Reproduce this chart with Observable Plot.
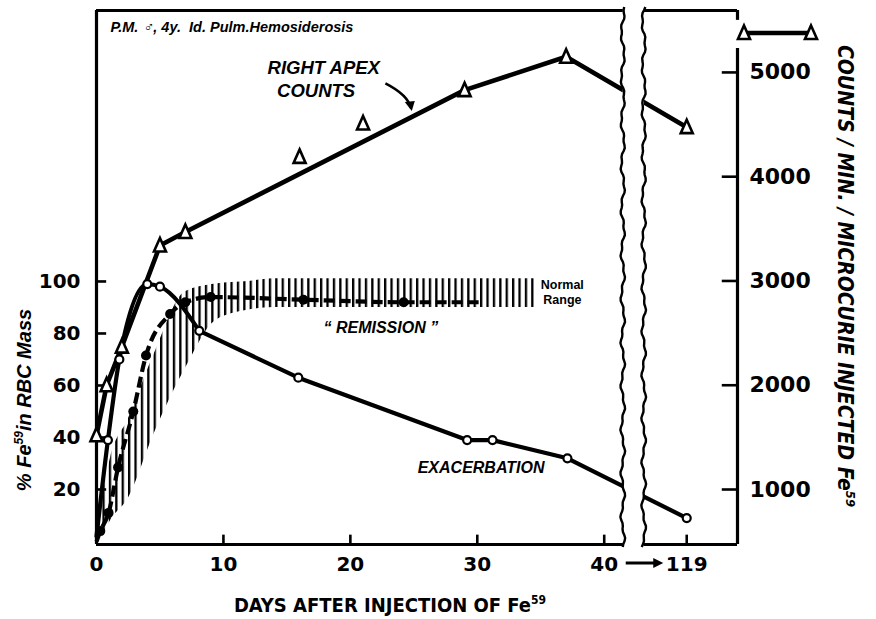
<!DOCTYPE html>
<html>
<head>
<meta charset="utf-8">
<script src="https://cdn.jsdelivr.net/npm/d3@7"></script>
<script src="https://cdn.jsdelivr.net/npm/@observablehq/plot@0.6"></script>
<style>
  html, body { margin: 0; padding: 0; background: #fff; }
  svg { display: block; }
</style>
</head>
<body>
<div id="chart"></div>
<script>
// ---------------- DATA ----------------
// Right apex counts (counts/min/microcurie injected, right axis)
const triDays   = [0, 0.8, 2, 5, 7, 16, 21, 29, 37, 119];
const triCounts = [1520, 2000, 2370, 3340, 3470, 4190, 4510, 4830, 5150, 4475];
const triOnLine = [true, true, true, true, true, false, false, true, true, true];

// "Exacerbation": % Fe59 in RBC mass (open circles, left axis)
const exaDays   = [0, 0.9, 1.8, 4, 5, 8.1, 15.9, 29.2, 31.2, 37.1, 119];
const exaPct    = [2, 39, 70, 99, 98, 81, 63, 39, 39, 32, 9];
const exaMarker = [false, true, true, true, true, true, true, true, true, true, true];

// "Remission": % Fe59 in RBC mass (filled circles, dashed)
const remDays   = [0, 0.3, 0.95, 1.7, 2.9, 3.9, 5.8, 7, 9, 16.3, 24.2, 30.2];
const remPct    = [0, 4, 11, 28.5, 50, 71.5, 87.5, 92, 94, 93, 92, 92];
const remMarker = [false, true, true, true, true, true, true, true, true, true, true, false];

// Normal range band (hatched)
const normDays = [0.3, 1.1, 2.5, 4.5, 7, 9.4, 12, 14, 34.5];
const normLow  = [0, 8, 16.5, 41, 66.5, 85, 89, 90, 90];
const normHigh = [12, 32, 47, 71.5, 96, 99, 100, 101, 101];

// Tick labels
const xTicks     = [0, 10, 20, 30, 40, 119];
const leftTicks  = [20, 40, 60, 80, 100];
const rightTicks = [1000, 2000, 3000, 4000, 5000];

// ---------------- SCALE HELPERS ----------------
const X_MAX = 50.5, Y_MIN = -1.15, Y_MAX = 204.2;
const BREAK_A = 41.5, BREAK_B = 43.15;         // broken x-axis gap
const POS_119 = 46.5;                           // compressed position of day 119
const xPos = d => (d > 45 ? POS_119 : d);
// right axis (counts) expressed in left-axis units
const cy = c => 20 + (c - 1000) * 0.040096;

const tri = triDays.map((d, i) => ({day: d, y: cy(triCounts[i]), onLine: triOnLine[i]}));
const exa = exaDays.map((d, i) => ({day: d, y: exaPct[i], m: exaMarker[i]}));
const rem = remDays.map((d, i) => ({day: d, y: remPct[i], m: remMarker[i]}));
const norm = normDays.map((d, i) => ({day: d, lo: normLow[i], hi: normHigh[i]}));

const tallTriangle = {
  draw(ctx, size) {
    const r = Math.sqrt(size / Math.PI);
    ctx.moveTo(0, -1.25 * r);
    ctx.lineTo(r, 1.0 * r);
    ctx.lineTo(-r, 1.0 * r);
    ctx.closePath();
  }
};

const NUM_FONT = "'DejaVu Sans', sans-serif";
const LAB_FONT = "'Liberation Sans', Arial, sans-serif";
const COND_FONT = "'Liberation Sans Narrow', 'DejaVu Sans Condensed', sans-serif";
const FW = 3.2; // frame stroke width

const plot = Plot.plot({
  width: 876,
  height: 619,
  marginLeft: 96,
  marginRight: 139,
  marginTop: 10,
  marginBottom: 75,
  x: {domain: [0, X_MAX], axis: null},
  y: {domain: [Y_MIN, Y_MAX], axis: null},
  style: {background: "white", overflow: "visible", fontFamily: LAB_FONT, color: "black"},
  marks: [
    // normal range hatched band
    Plot.areaY(norm, {x: "day", y1: "lo", y2: "hi", fill: "url(#hatch)", curve: "monotone-x"}),

    // frame
    Plot.ruleX([0], {y1: Y_MIN, y2: Y_MAX, strokeWidth: FW}),
    Plot.ruleY([Y_MIN, Y_MAX], {x1: 0, x2: X_MAX, strokeWidth: FW}),
    Plot.ruleX([X_MAX], {y1: Y_MIN, y2: 189.6, strokeWidth: FW}),
    Plot.ruleX([X_MAX], {y1: Y_MAX, y2: 200.4, strokeWidth: FW}),

    // inward ticks
    Plot.ruleY(leftTicks, {y: d => d, x1: 0, x2: 0.8, strokeWidth: 2.6}),
    Plot.ruleX(xTicks.filter(t => t > 0), {x: xPos, y1: Y_MIN, y2: Y_MIN + 3.6, strokeWidth: 2.6}),
    Plot.ruleY(rightTicks, {y: cy, x1: X_MAX - 1.2, x2: X_MAX, strokeWidth: 2.6}),

    // remission dashed line
    Plot.line(rem, {x: d => xPos(d.day), y: "y", strokeWidth: 4.2, strokeDasharray: "11,5", strokeLinecap: "butt", curve: "monotone-x"}),

    // exacerbation line: curved rise, then straight segments
    Plot.line(exa.filter(d => d.day <= 8.1), {x: d => xPos(d.day), y: "y", strokeWidth: 4.2, curve: "monotone-x"}),
    Plot.line(exa.filter(d => d.day >= 8.1), {x: d => xPos(d.day), y: "y", strokeWidth: 4.2}),

    // right apex counts line
    Plot.line(tri.filter(d => d.onLine), {x: d => xPos(d.day), y: "y", strokeWidth: 4.6}),

    // markers
    Plot.dot(rem.filter(d => d.m), {x: d => xPos(d.day), y: "y", r: 5, fill: "black", stroke: "none"}),
    Plot.dot(exa.filter(d => d.m), {x: d => xPos(d.day), y: "y", r: 4, fill: "white", stroke: "black", strokeWidth: 2.2}),
    Plot.dot(tri, {x: d => xPos(d.day), y: "y", r: 6, symbol: tallTriangle, fill: "white", stroke: "black", strokeWidth: 2.6}),

    // tick labels
    Plot.text(leftTicks, {x: 0, y: d => d, dx: -16, textAnchor: "end", text: d => String(d),
      fontSize: 20, fontWeight: "bold", fontFamily: NUM_FONT}),
    Plot.text(xTicks, {x: xPos, y: Y_MIN, dy: 20, text: d => String(d),
      fontSize: 20, fontWeight: "bold", fontFamily: NUM_FONT}),
    Plot.text(rightTicks, {x: X_MAX, y: cy, dx: 12, textAnchor: "start", text: d => String(d),
      fontSize: 22, fontWeight: "bold", fontFamily: NUM_FONT}),

    // annotations
    Plot.text(["P.M. \u2642, 4y.  Id. Pulm.Hemosiderosis"], {x: 1.1, y: 197.7, textAnchor: "start", text: d => d,
      fontSize: 14.5, fontWeight: "bold", fontStyle: "italic", fontFamily: LAB_FONT}),
    Plot.text(["RIGHT APEX"], {x: 17.9, y: 182, text: d => d, fontSize: 18.5, fontWeight: "bold", fontStyle: "italic"}),
    Plot.text(["COUNTS"], {x: 17.3, y: 173.3, text: d => d, fontSize: 18.5, fontWeight: "bold", fontStyle: "italic"}),
    Plot.text(["Normal"], {x: 35.0, y: 98.5, textAnchor: "start", text: d => d, fontSize: 12.5, fontWeight: "bold"}),
    Plot.text(["Range"], {x: 35.2, y: 92.7, textAnchor: "start", text: d => d, fontSize: 12.5, fontWeight: "bold"}),
    Plot.text(["\u201C REMISSION \u201D"], {x: 22.4, y: 82.3, text: d => d, fontSize: 16, fontWeight: "bold", fontStyle: "italic"}),
    Plot.text(["EXACERBATION"], {x: 30.3, y: 28.5, text: d => d, fontSize: 16, fontWeight: "bold", fontStyle: "italic"})
  ]
});

document.getElementById("chart").appendChild(plot);

// ---------------- post-render decorations ----------------
const svg = d3.select(plot);
const sx = plot.scale("x"), sy = plot.scale("y");
const X = v => sx.apply(v), Y = v => sy.apply(v);

// hatch pattern
const defs = svg.insert("defs", ":first-child");
defs.append("pattern")
  .attr("id", "hatch").attr("patternUnits", "userSpaceOnUse")
  .attr("x", 0).attr("y", 0).attr("width", 6.4).attr("height", 10)
  .append("rect").attr("x", 0).attr("y", 0).attr("width", 2.3).attr("height", 10).attr("fill", "black");

const deco = svg.append("g");

// break gap (white) and wavy edges
const xa = X(BREAK_A), xb = X(BREAK_B);
const yTop = Y(Y_MAX) - 3, yBot = Y(Y_MIN) + 4;
deco.append("rect").attr("x", xa).attr("y", yTop - 6).attr("width", xb - xa).attr("height", yBot - yTop + 10).attr("fill", "white");
function wavy(x0, phase) {
  const pts = [];
  for (let y = yTop; y <= yBot; y += 3) {
    pts.push([x0 + 1.6 * Math.sin((y + phase) / 7) + 0.8 * Math.sin((y + phase) / 2.3), y]);
  }
  return d3.line()(pts);
}
deco.append("path").attr("d", wavy(xa, 0)).attr("fill", "none").attr("stroke", "black").attr("stroke-width", 2.4);
deco.append("path").attr("d", wavy(xb, 11)).attr("fill", "none").attr("stroke", "black").attr("stroke-width", 2.4);

// legend triangle — triangle (top right)
const legY = 33, legX1 = X(X_MAX) + 7, legX2 = X(X_MAX) + 74;
deco.append("line").attr("x1", legX1).attr("x2", legX2).attr("y1", legY).attr("y2", legY)
  .attr("stroke", "black").attr("stroke-width", 4.5);
const triPath = d3.symbol().type(tallTriangle).size(Math.PI * 36)();
[legX1, legX2].forEach(x => deco.append("path").attr("d", triPath).attr("transform", `translate(${x},${legY})`)
  .attr("fill", "white").attr("stroke", "black").attr("stroke-width", 2.6));

// arrow "40 --> 119"
const ay = Y(Y_MIN) + 19;
const ax1 = X(40) + 22, ax2 = X(POS_119) - 23;
deco.append("line").attr("x1", ax1).attr("x2", ax2 - 8).attr("y1", ay).attr("y2", ay).attr("stroke", "black").attr("stroke-width", 3);
deco.append("path").attr("d", `M${ax2},${ay} L${ax2 - 10},${ay - 5} L${ax2 - 10},${ay + 5} Z`).attr("fill", "black");

// curved arrow pointing to counts line
const c0 = [X(22.8), Y(176)], c1 = [X(24.6), Y(171.5)], c2 = [X(24.8), Y(166.5)];
deco.append("path").attr("d", `M${c0[0]},${c0[1]} Q${c1[0]},${c1[1]} ${c2[0]},${c2[1]}`)
  .attr("fill", "none").attr("stroke", "black").attr("stroke-width", 2.6);
deco.append("path").attr("d", `M${c2[0] + 1},${c2[1] + 3} L${c2[0] - 6},${c2[1] - 6} L${c2[0] + 4},${c2[1] - 7} Z`).attr("fill", "black");

// axis titles
const tLeft = deco.append("text").attr("transform", "translate(31,400) rotate(-90)")
  .attr("text-anchor", "middle").attr("font-family", LAB_FONT).attr("font-weight", "bold")
  .attr("font-style", "italic").attr("font-size", 20);
tLeft.append("tspan").text("% Fe");
tLeft.append("tspan").attr("dy", -8).attr("font-size", 12).text("59");
tLeft.append("tspan").attr("dy", 8).text("in RBC Mass");

const tRight = deco.append("text").attr("transform", "translate(838,276) rotate(90)")
  .attr("text-anchor", "middle").attr("font-family", COND_FONT).attr("font-weight", "bold")
  .attr("font-style", "italic").attr("font-size", 21);
tRight.append("tspan").text("COUNTS / MIN. / MICROCURIE INJECTED Fe");
tRight.append("tspan").attr("dy", -8).attr("font-size", 13).text("59");

const tBottom = deco.append("text").attr("x", 390).attr("y", 612)
  .attr("text-anchor", "middle").attr("font-family", COND_FONT).attr("font-weight", "bold")
  .attr("font-size", 20);
tBottom.append("tspan").text("DAYS AFTER INJECTION OF Fe");
tBottom.append("tspan").attr("dy", -8).attr("font-size", 12).text("59");
</script>
</body>
</html>
